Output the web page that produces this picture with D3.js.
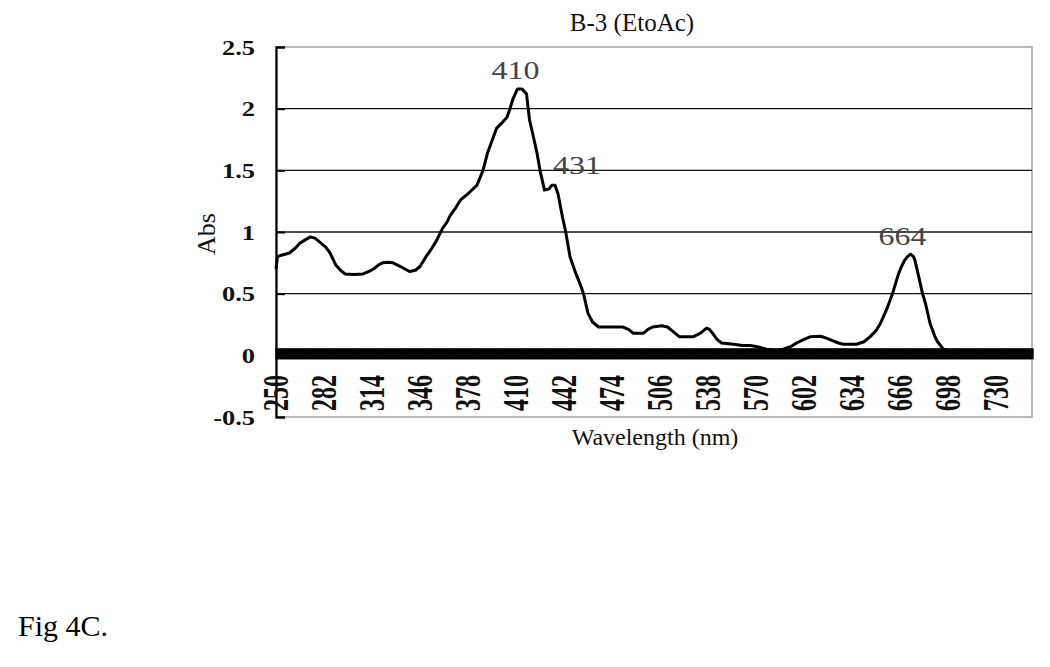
<!DOCTYPE html>
<html>
<head>
<meta charset="utf-8">
<script src="https://cdn.jsdelivr.net/npm/d3@7"></script>
<style>
  html, body { margin: 0; padding: 0; background: #fff; }
  svg { display: block; }
</style>
</head>
<body>
<svg id="chart" width="1050" height="667"></svg>
<script>
// ---- Data ----
const wavelength = [250,251,253,259,263,266,270,273,276,279,283,286,290,293,296,302,308,312,315,318,321,325,328,333,339,343,346,350,354,357,361,364,366,370,373,378,384,386,388,391,394,397,401,404,406,408,411,414,417,419,422,424,426,429,432,434,436,438,441,443,446,450,453,455,458,461,465,470,476,481,485,488,495,498,501,507,511,515,519,528,533,537,539,541,544,547,555,561,566,571,577,583,588,593,597,602,606,613,617,621,625,628,637,642,646,650,653,657,661,665,667,669,671,673,675,676,679,681,683,686,689,691,695,701,710,720,735,754];
const absorbance = [0.70,0.80,0.81,0.83,0.87,0.91,0.94,0.96,0.95,0.92,0.88,0.83,0.73,0.69,0.66,0.655,0.66,0.68,0.70,0.73,0.75,0.755,0.75,0.72,0.68,0.69,0.72,0.80,0.87,0.93,1.03,1.08,1.13,1.20,1.26,1.31,1.38,1.44,1.50,1.64,1.74,1.84,1.89,1.93,2.00,2.08,2.16,2.16,2.12,1.91,1.75,1.64,1.50,1.34,1.35,1.38,1.38,1.31,1.12,1.01,0.80,0.66,0.57,0.50,0.34,0.27,0.23,0.23,0.23,0.23,0.21,0.18,0.18,0.21,0.23,0.24,0.23,0.19,0.15,0.15,0.18,0.22,0.21,0.18,0.13,0.10,0.09,0.08,0.08,0.07,0.05,0.04,0.05,0.07,0.10,0.13,0.15,0.155,0.14,0.12,0.10,0.09,0.09,0.11,0.15,0.20,0.26,0.37,0.50,0.66,0.72,0.77,0.80,0.82,0.80,0.77,0.61,0.50,0.42,0.26,0.16,0.11,0.05,0.03,0.02,0.02,0.02,0.02];
const xTickLabels = [250,282,314,346,378,410,442,474,506,538,570,602,634,666,698,730];
const yTickLabels = [-0.5,0,0.5,1,1.5,2,2.5];
const yGridValues = [0.5,1,1.5,2];
const peakLabels = ["410","431","664"];
const peakWavelengths = [411,436,673];
const peakValues = [2.16,1.38,0.82];
const chartTitle = "B-3 (EtoAc)";
const xTitle = "Wavelength (nm)";
const yTitle = "Abs";
const figCaption = "Fig 4C.";

// ---- Layout ----
const plotLeft = 276, plotRight = 1032, plotTop = 47, plotBottom = 417;
const svg = d3.select("#chart");
const serif = "'Liberation Serif', 'Times New Roman', serif";

const x = d3.scaleLinear().domain([250, 754]).range([plotLeft, plotRight]);
const y = d3.scaleLinear().domain([-0.5, 2.5]).range([plotBottom, plotTop]);

// Frame (grey top/right/bottom)
svg.append("rect")
  .attr("x", plotLeft).attr("y", plotTop)
  .attr("width", plotRight - plotLeft).attr("height", plotBottom - plotTop)
  .attr("fill", "none").attr("stroke", "#8a8a8a").attr("stroke-width", 1.2);

// Gridlines
svg.append("g")
  .selectAll("line").data(yGridValues).join("line")
  .attr("x1", plotLeft).attr("x2", plotRight)
  .attr("y1", d => y(d)).attr("y2", d => y(d))
  .attr("stroke", "#111").attr("stroke-width", 1.3);

// Left axis with inside ticks
const yAxis = d3.axisRight(y).tickValues(yTickLabels).tickSize(9).tickFormat("");
const gy = svg.append("g").attr("transform", `translate(${plotLeft},0)`).call(yAxis);
gy.select(".domain").attr("stroke", "#000").attr("stroke-width", 2.2);
gy.selectAll(".tick line").attr("stroke", "#000").attr("stroke-width", 2);

// Y tick labels
svg.append("g")
  .selectAll("text").data(yTickLabels).join("text")
  .attr("transform", d => `translate(${plotLeft - 21},${y(d)}) scale(1.2,1)`)
  .attr("text-anchor", "end")
  .attr("dy", "0.35em")
  .attr("font-family", serif).attr("font-weight", "bold").attr("font-size", 22)
  .attr("fill", "#111")
  .text(d => String(d));

// Dense category tick band on the zero line
const xAxisBand = d3.axisBottom(x).tickValues(d3.range(250, 755, 1)).tickSize(0).tickFormat("");
const gx = svg.append("g").attr("transform", `translate(0,${y(0)})`).call(xAxisBand);
gx.select(".domain").attr("stroke", "#000").attr("stroke-width", 2);
gx.selectAll(".tick line")
  .attr("y1", -7).attr("y2", 4)
  .attr("stroke", "#000").attr("stroke-width", 2.4);

// X tick labels (rotated)
svg.append("g")
  .selectAll("text").data(xTickLabels).join("text")
  .attr("transform", d => `translate(${x(d)},375) rotate(-90) scale(1,1.45)`)
  .attr("text-anchor", "end")
  .attr("dy", "0.35em")
  .attr("font-family", serif).attr("font-weight", "bold").attr("font-size", 24)
  .attr("fill", "#111")
  .text(d => d);

// Spectrum line
const line = d3.line().x((d, i) => x(wavelength[i])).y(d => y(d));
svg.append("path")
  .datum(absorbance)
  .attr("d", line)
  .attr("fill", "none")
  .attr("stroke", "#000")
  .attr("stroke-width", 3)
  .attr("stroke-linejoin", "round");

// Peak annotations
const annOffsets = [{dx: -2, dy: -10}, {dx: 22, dy: -11}, {dx: -8, dy: -9}];
svg.append("g")
  .selectAll("text").data(peakLabels).join("text")
  .attr("transform", (d, i) => `translate(${x(peakWavelengths[i]) + annOffsets[i].dx},${y(peakValues[i]) + annOffsets[i].dy}) scale(1.28,1)`)
  .attr("text-anchor", "middle")
  .attr("font-family", serif).attr("font-size", 25)
  .attr("fill", "#444")
  .text(d => d);

// Titles
svg.append("text")
  .attr("x", 632).attr("y", 31)
  .attr("text-anchor", "middle")
  .attr("font-family", serif).attr("font-size", 25)
  .attr("fill", "#111")
  .text(chartTitle);

svg.append("text")
  .attr("x", 655).attr("y", 445)
  .attr("text-anchor", "middle")
  .attr("font-family", serif).attr("font-size", 24)
  .attr("fill", "#111")
  .text(xTitle);

svg.append("text")
  .attr("transform", "translate(215,234) rotate(-90)")
  .attr("text-anchor", "middle")
  .attr("font-family", serif).attr("font-size", 26)
  .attr("fill", "#111")
  .text(yTitle);

svg.append("text")
  .attr("x", 18).attr("y", 636)
  .attr("font-family", serif).attr("font-size", 30)
  .attr("fill", "#000")
  .text(figCaption);
</script>
</body>
</html>
